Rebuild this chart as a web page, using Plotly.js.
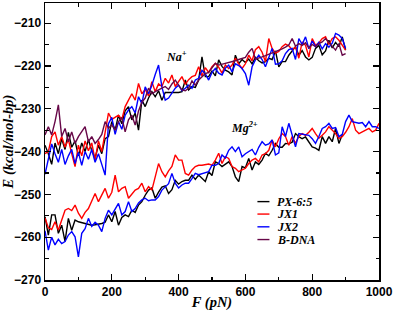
<!DOCTYPE html>
<html>
<head>
<meta charset="utf-8">
<script src="https://cdn.plot.ly/plotly-3.0.1.min.js"></script>
<style>
html,body{margin:0;padding:0;background:#fff;}
#chart{width:395px;height:311px;}
</style>
</head>
<body>
<div id="chart"></div>
<script>
// Force values (pN)
const force = [0,10,20,30,40,50,60,70,80,90,100,110,120,130,140,150,160,170,180,190,
200,210,220,230,240,250,260,270,280,290,300,310,320,330,340,350,360,370,380,390,
400,410,420,430,440,450,460,470,480,490,500,510,520,530,540,550,560,570,580,590,
600,610,620,630,640,650,660,670,680,690,700,710,720,730,740,750,760,770,780,790,
800,810,820,830,840,850,860,870,880,890,900,910,920,930,940,950,960,970,980,990,1000];

const seriesNames = ["PX-6:5", "JX1", "JX2", "B-DNA"];
const seriesColors = ["#000000", "#ff0000", "#0000ff", "#670748"];

// Na+ group
const naPX = [-238.5,-240.5,-243,-238,-240.5,-237,-239.5,-235.5,-239,-237.5,
-241,-238,-240,-237.2,-239.8,-241.5,-238.5,-240.5,-237,-236.5,
-233,-235,-231.5,-233.5,-230.5,-229.5,-232.6,-231,-235,-228,
-229.5,-227.5,-226,-227.2,-225.8,-228,-226.2,-226.2,-226.3,-226.3,
-226.2,-226,-223.3,-225.6,-224.8,-225,-223.3,-217.9,-222.5,-222.5,
-221.2,-222.3,-218.6,-220.1,-221,-221.4,-222.1,-217.5,-219.5,-218.5,
-219.2,-218.4,-219.5,-218,-218.8,-219.3,-219,-218.2,-218.5,-216.5,
-220.2,-219,-219,-217.5,-216.5,-215.5,-217.5,-216.4,-217.9,-218.6,
-218,-215.9,-215.2,-217.4,-216.5,-214,-215.8,-214.5,-215.5,-213.2,-216.3];

const naJX1 = [-240.5,-240,-236.5,-235.4,-238.5,-236.5,-239,-237.2,-240.5,-243.5,
-238.5,-241,-237.5,-239.8,-238,-242,-237.5,-240,-235.5,-231,
-232.5,-232,-231.5,-232.5,-229.5,-228,-226.5,-228,-224.1,-226.5,
-225.5,-227,-223.7,-226,-224.2,-224.8,-222.9,-224,-222.1,-224.8,
-223.5,-222.5,-224.3,-223.2,-222.5,-222.2,-220.2,-222.3,-220.4,-221.5,
-220.2,-219.4,-220.3,-221.7,-219.8,-220.6,-219.8,-218.2,-219.5,-220.6,
-219.5,-217.5,-218.8,-216.2,-215.5,-216.8,-219,-213.6,-215.9,-217,
-216.6,-215.5,-214.9,-215.3,-216.2,-215.6,-218.2,-214.4,-215.2,-217.9,
-213.6,-215.2,-214.6,-213.6,-213.2,-215,-213.6,-213.2,-214,-215.1,-216.3];

const naJX2 = [-245.3,-241.5,-238.2,-240.5,-242.5,-239.5,-243,-241,-239.5,-242.8,
-240.2,-243.2,-240,-241.8,-239.5,-242.5,-240.5,-243,-245.5,-233.5,
-232,-236,-233,-234.8,-231.5,-230.3,-229.5,-231,-227.2,-228.8,
-224.9,-226.5,-224.5,-222,-219.8,-224.9,-228,-227.5,-226.3,-225.2,
-224.5,-225.8,-225.2,-224.5,-225.2,-223.3,-222.9,-221,-221.8,-223.3,
-221.5,-220.6,-221.7,-222.1,-220.5,-219.8,-221.4,-219.5,-219.9,-220.6,
-221.8,-224.5,-220.2,-218.6,-217.5,-218.5,-220.2,-218,-215.9,-219.6,
-219.5,-218.8,-217.1,-216.2,-215.9,-218.5,-213.6,-215,-213.2,-216,
-214.2,-215.5,-214.5,-216,-214.8,-215.6,-214.7,-212.4,-212.8,-213.6,-215.9];

const naBDNA = [-236.1,-234.2,-236.1,-233,-229.1,-236.5,-234.6,-237.7,-235.4,-238.1,
-236.5,-235.4,-234.2,-237.7,-236.5,-238.1,-237.2,-236,-233,-234.5,
-233.8,-235,-233,-232,-235.4,-232.6,-231.5,-233.8,-230.5,-228.5,
-227.5,-225.2,-226.5,-226,-225.5,-225.2,-224.8,-225.5,-224.2,-223.3,
-224.5,-225.6,-225.8,-225.2,-223.5,-224.5,-223.3,-222.5,-221.8,-221.5,
-220.5,-219.4,-219.8,-219.6,-219.5,-219.2,-219,-218.8,-218.5,-218.2,
-218,-216.8,-215.9,-218.4,-218.2,-217.9,-217.6,-217.3,-217,-216.6,
-216.3,-216,-215.6,-215.1,-213.6,-215.4,-214.8,-215.2,-214.6,-215.8,
-215,-215.5,-214.8,-214.4,-213.6,-214.5,-215.2,-216.3,-214.8,-217.5,-217.1];

// Mg2+ group
const mgPX = [-255.2,-259.5,-254.8,-254.8,-259.1,-257.2,-261,-255.6,-258.4,-256,
-256.4,-256.6,-256.9,-257.1,-257.2,-257.1,-257,-256.8,-256.5,-254.8,
-256.4,-254,-257.2,-255.4,-254.8,-255.2,-253.7,-254.2,-252.5,-251.7,
-250.2,-249,-248.5,-250.9,-249.5,-248.3,-248,-249.8,-248.9,-246.7,
-247.6,-247,-246.7,-246.7,-245.5,-246.5,-245.5,-246.2,-247,-244.7,
-245.6,-242.4,-242.8,-243.5,-242.9,-242.4,-243.5,-245.9,-247,-243.5,
-243.8,-241.6,-244.3,-242.4,-243,-242,-240.4,-241,-239.7,-238.1,
-239,-239,-238.1,-238.2,-237.8,-235.8,-236.5,-237,-236.6,-237.7,
-238.9,-239.2,-239.7,-236.5,-238.1,-236.5,-237.7,-234.6,-238.1,-236];

const mgJX1 = [-255.5,-257.8,-258.2,-256.4,-258.3,-256,-253.7,-253.3,-253.8,-252.5,
-254.4,-255.6,-254.2,-253.3,-251.5,-249.8,-251.7,-250.2,-248.6,-250.9,
-249.5,-245.5,-249.4,-248.6,-248.2,-250.9,-249.8,-249,-248.6,-247.4,
-249.4,-248.2,-249,-246,-242.8,-244.7,-245.9,-244.5,-243.5,-240.8,
-242,-242,-245.1,-245.5,-244.3,-243.5,-243.2,-243.2,-243,-242.9,
-243.2,-242,-240.4,-242.8,-241.2,-241.6,-243.5,-243.9,-244.7,-244.2,
-243.9,-242.8,-242,-241.6,-242.4,-240.8,-240.5,-239.7,-237.3,-238.9,
-237,-235.8,-236.5,-238.5,-236.5,-238.1,-236.4,-235.8,-236.2,-235.5,
-234.6,-235.8,-236.9,-236.2,-235.4,-234.2,-235,-235.8,-236.9,-236.5,
-235.5,-234.2,-232.3,-235,-235.8,-235.4,-235,-234.6,-235.4,-235,-233.4];

const mgJX2 = [-258.5,-263,-260,-261.8,-260.5,-261.5,-261,-259.5,-258.7,-259.9,
-264.6,-259.1,-258,-255.6,-257.5,-256.5,-257.2,-258.7,-255.6,-253.7,
-254.8,-253.5,-252.1,-254.8,-254,-251.7,-254,-253.3,-252,-251.3,
-250.9,-251.5,-251.3,-251.3,-250.5,-249,-248.2,-247.5,-245.1,-247.4,
-248.5,-247.8,-247.4,-247.4,-246.3,-245.1,-245.4,-245.2,-245,-244.7,
-243.2,-243.2,-242.8,-240.8,-241.5,-239.7,-238.9,-240,-238.9,-241.2,
-240.5,-240,-239.5,-240.8,-239,-237.7,-238.5,-238.2,-237.3,-240.8,
-240.3,-234.2,-236.5,-233.4,-236.2,-238.9,-235.8,-235.9,-236,-236.2,
-237,-238.1,-236.5,-234.6,-234.2,-233.4,-234.6,-234.4,-236.5,-236,
-233,-231.5,-233,-233.2,-233.4,-233.2,-234.2,-233,-234.2,-234.2,-234.6];

const groups = [
  [naPX, naJX1, naJX2, naBDNA],
  [mgPX, mgJX1, mgJX2, null]
];

const traces = [];
groups.forEach(g => {
  g.forEach((vals, i) => {
    if (!vals) return;
    traces.push({
      x: force.slice(0, vals.length),
      y: vals,
      type: 'scatter',
      mode: 'lines',
      name: seriesNames[i],
      showlegend: false,
      line: {color: seriesColors[i], width: 1.4},
      hoverinfo: 'skip'
    });
  });
});

const serifFam = 'Liberation Serif, Times New Roman, serif';
const titleFont = {family: serifFam, size: 14.5, color: '#000', weight: 'bold', style: 'italic'};
const labelFont = {family: serifFam, size: 12, color: '#000', weight: 'bold', style: 'italic'};
const tickFont = {family: 'Liberation Sans, Arial, sans-serif', size: 12, color: '#000', weight: 'bold'};

// compact legend, as in the reference
const legRowsY = [0.283, 0.238, 0.192, 0.146];
const shapes = [];
const annotations = [];
seriesNames.forEach((nm, i) => {
  shapes.push({type: 'line', xref: 'paper', yref: 'paper', x0: 0.636, x1: 0.672, y0: legRowsY[i], y1: legRowsY[i],
    line: {color: seriesColors[i], width: 1.4}});
  annotations.push({xref: 'paper', yref: 'paper', x: 0.693, y: legRowsY[i], xanchor: 'left', yanchor: 'middle',
    text: nm, showarrow: false, borderpad: 0, font: labelFont});
});
annotations.push({xref: 'x', yref: 'y', x: 394, y: -217.7, text: 'Na<sup>+</sup>', showarrow: false,
  xanchor: 'center', yanchor: 'middle', font: labelFont});
annotations.push({xref: 'x', yref: 'y', x: 597, y: -234.3, text: 'Mg<sup>2+</sup>', showarrow: false,
  xanchor: 'center', yanchor: 'middle', font: labelFont});

const layout = {
  width: 395, height: 311,
  margin: {l: 45, r: 16, t: 3, b: 31},
  paper_bgcolor: '#fff', plot_bgcolor: '#fff',
  showlegend: false,
  xaxis: {
    range: [0, 1000], tickvals: [0,200,400,600,800,1000], ticks: 'inside', ticklen: 6, tickwidth: 1.2,
    tickcolor: '#000', showgrid: false, zeroline: false, showline: true, linecolor: '#000', linewidth: 1.5,
    mirror: 'ticks', tickfont: tickFont,
    minor: {dtick: 100, ticks: 'inside', ticklen: 3.5, tickwidth: 1.2, tickcolor: '#000', showgrid: false},
    title: {text: 'F (pN)', font: titleFont, standoff: 1}
  },
  yaxis: {
    range: [-270, -205.3], tickvals: [-270,-260,-250,-240,-230,-220,-210], ticks: 'inside', ticklen: 6, tickwidth: 1.2,
    tickcolor: '#000', showgrid: false, zeroline: false, showline: true, linecolor: '#000', linewidth: 1.5,
    mirror: 'ticks', tickfont: tickFont,
    minor: {dtick: 5, ticks: 'inside', ticklen: 3.5, tickwidth: 1.2, tickcolor: '#000', showgrid: false},
    title: {text: 'E (kcal/mol-bp)', font: titleFont, standoff: 3}
  },
  shapes: shapes,
  annotations: annotations
};

Plotly.newPlot('chart', traces, layout, {staticPlot: true, displayModeBar: false});
</script>
</body>
</html>
